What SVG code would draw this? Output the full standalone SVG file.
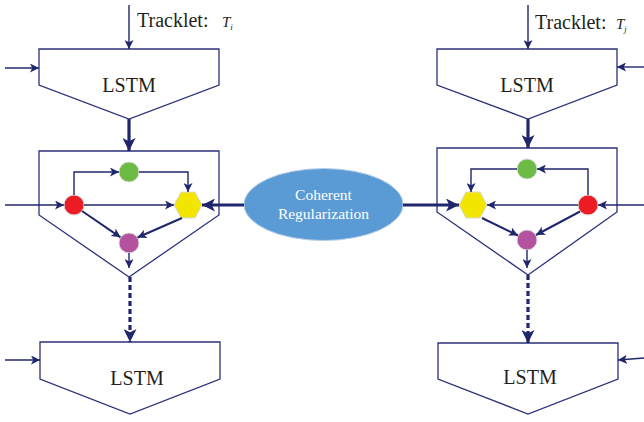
<svg xmlns="http://www.w3.org/2000/svg" width="644" height="422" viewBox="0 0 644 422">
<style>
.box{fill:#fff;stroke:#2b317a;stroke-width:1.3}
.ln{fill:none;stroke:#20266b;stroke-width:1.4}
.th{fill:none;stroke:#20266b;stroke-width:3.2}
.lbl{font-family:"Liberation Serif",serif;font-size:20px;fill:#231f20}
.ct{font-family:"Liberation Serif",serif;font-size:15.5px;fill:#fff;text-anchor:middle}
.nd{stroke:#d8d8d8;stroke-width:1}
</style>
<defs>
<marker id="a" viewBox="0 0 10 10" refX="10" refY="5" markerWidth="9" markerHeight="9" markerUnits="userSpaceOnUse" orient="auto"><path d="M0,0 L10,5 L0,10 L2.5,5 z" fill="#20266b"/></marker>
<marker id="b" viewBox="0 0 10 10" refX="10" refY="5" markerWidth="13" markerHeight="13" markerUnits="userSpaceOnUse" orient="auto"><path d="M0,0 L10,5 L0,10 L2.5,5 z" fill="#20266b"/></marker>
</defs>

<g id="lstm-left-top">
<path class="box" d="M39,49 H219 V85 L129,119 L39,85 Z"/>
<text class="lbl" x="129" y="92" text-anchor="middle">LSTM</text>
</g>
<g id="tracklet-left">
<text class="lbl" x="137" y="27">Tracklet:</text>
<text x="222" y="27" font-family="Liberation Serif,serif" font-style="italic" font-size="15" fill="#231f20">T<tspan font-size="9" dy="3">i</tspan></text>
</g>
<g id="cell-left">
<path class="box" d="M39,151 H219 V215 L129,277 L39,215 Z"/>
</g>
<g id="green-left"><circle class="nd" cx="129" cy="172" r="10" fill="#6cbb45"/></g>
<g id="red-left"><circle class="nd" cx="74" cy="205" r="10" fill="#ed1c24"/></g>
<g id="yellow-left"><polygon class="nd" points="174,205 181,192 195,192 202,205 195,218 181,218" fill="#f2e500"/></g>
<g id="purple-left"><circle class="nd" cx="129" cy="243" r="10" fill="#b5529f"/></g>
<g id="lstm-left-bottom">
<path class="box" d="M40,342 H220 V379 L130,414 L40,379 Z"/>
<text class="lbl" x="137" y="385" text-anchor="middle">LSTM</text>
</g>

<g id="lstm-right-top">
<path class="box" d="M437,49 H617 V85 L528,119 L437,85 Z"/>
<text class="lbl" x="527" y="92" text-anchor="middle">LSTM</text>
</g>
<g id="tracklet-right">
<text class="lbl" x="535" y="29">Tracklet:</text>
<text x="616" y="29" font-family="Liberation Serif,serif" font-style="italic" font-size="15" fill="#231f20">T<tspan font-size="9" dy="3">j</tspan></text>
</g>
<g id="cell-right">
<path class="box" d="M437,148 H617 V212 L528,275 L437,212 Z"/>
</g>
<g id="green-right"><circle class="nd" cx="527" cy="169" r="10" fill="#6cbb45"/></g>
<g id="red-right"><circle class="nd" cx="588" cy="205" r="10" fill="#ed1c24"/></g>
<g id="yellow-right"><polygon class="nd" points="459,205 466,192 480,192 487,205 480,218 466,218" fill="#f2e500"/></g>
<g id="purple-right"><circle class="nd" cx="527" cy="240" r="10" fill="#b5529f"/></g>
<g id="lstm-right-bottom">
<path class="box" d="M438,343 H618 V379 L528,414 L438,379 Z"/>
<text class="lbl" x="530" y="384" text-anchor="middle">LSTM</text>
</g>

<g id="coherent">
<ellipse cx="323.5" cy="204.5" rx="79.5" ry="36" fill="#5b9bd5" stroke="#b6cfe9" stroke-width="1"/>
<text class="ct" x="323.5" y="200">Coherent</text>
<text class="ct" x="323.5" y="219">Regularization</text>
</g>

<g id="connectors">
<line class="ln" x1="129" y1="5" x2="129" y2="49" marker-end="url(#a)"/>
<line class="ln" x1="5" y1="68" x2="39" y2="68" marker-end="url(#a)"/>
<line class="th" x1="129" y1="119" x2="129" y2="151" marker-end="url(#b)"/>
<line class="ln" x1="5" y1="205" x2="64" y2="205" marker-end="url(#a)"/>
<path class="ln" d="M74,195 V172 H119" marker-end="url(#a)"/>
<path class="ln" d="M139,172 H188 V192" marker-end="url(#a)"/>
<line class="ln" x1="84" y1="205" x2="174" y2="205" marker-end="url(#a)"/>
<line class="th" x1="82" y1="211" x2="120.5" y2="237.3" style="stroke-width:2" marker-end="url(#a)"/>
<line class="th" x1="182" y1="218" x2="137.5" y2="237.5" style="stroke-width:2" marker-end="url(#a)"/>
<line class="ln" x1="129" y1="253" x2="129" y2="268" marker-end="url(#a)"/>
<line class="th" x1="130" y1="277" x2="130" y2="342" stroke-dasharray="5,3" marker-end="url(#b)"/>
<line class="ln" x1="5" y1="360" x2="40" y2="360" marker-end="url(#a)"/>
<line class="th" x1="244" y1="205" x2="202" y2="205" marker-end="url(#b)"/>

<line class="ln" x1="528" y1="5" x2="528" y2="49" marker-end="url(#a)"/>
<line class="ln" x1="644" y1="67" x2="617" y2="67" marker-end="url(#a)"/>
<line class="th" x1="528" y1="119" x2="528" y2="148" marker-end="url(#b)"/>
<line class="th" x1="403" y1="205" x2="459" y2="205" marker-end="url(#b)"/>
<line class="ln" x1="644" y1="205" x2="598" y2="205" marker-end="url(#a)"/>
<path class="ln" d="M588,195 V169 H537" marker-end="url(#a)"/>
<path class="ln" d="M517,169 H471 V192" marker-end="url(#a)"/>
<line class="ln" x1="578" y1="205" x2="487" y2="205" marker-end="url(#a)"/>
<line class="th" x1="482" y1="218" x2="518" y2="235.5" style="stroke-width:2" marker-end="url(#a)"/>
<line class="th" x1="580" y1="211.5" x2="536" y2="235" style="stroke-width:2" marker-end="url(#a)"/>
<line class="ln" x1="527" y1="250" x2="527" y2="268" marker-end="url(#a)"/>
<line class="th" x1="528" y1="275" x2="528" y2="343" stroke-dasharray="5,3" marker-end="url(#b)"/>
<line class="ln" x1="644" y1="358" x2="618" y2="360" marker-end="url(#a)"/>
</g>
</svg>
